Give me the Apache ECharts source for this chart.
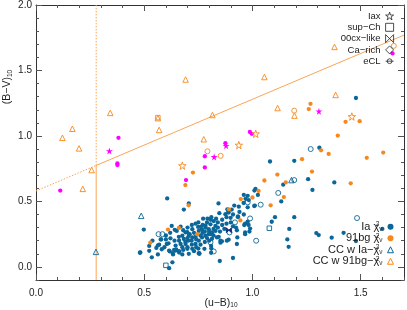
<!DOCTYPE html>
<html><head><meta charset="utf-8">
<script src="https://cdn.jsdelivr.net/npm/echarts@6/dist/echarts.min.js"></script>
<style>html,body{margin:0;padding:0;background:#fff}#c{width:407px;height:310px}</style>
</head><body><div id="c"></div>
<script>
// ---- data ----
const xMajor = [0, 0.5, 1.0, 1.5];
const yMajor = [0, 0.5, 1.0, 1.5, 2.0];

const iaPts = [
[1.478,1.29],[1.309,0.91],[1.081,0.805],[1.193,0.81],[1.257,0.67],[1.277,0.588],[1.378,0.645],[1.142,0.628],[1.133,0.5],
[1.009,0.583],[1.014,0.595],[0.96,0.55],[0.978,0.543],[1.025,0.55],[0.968,0.52],[0.983,0.51],[1.011,0.468],
[1.295,0.258],[1.306,0.243],[1.366,0.223],[1.421,0.26],[1.478,0.198],[1.6,0.29],
[1.089,0.345],[1.104,0.38],[1.193,0.38],[1.17,0.29],[1.161,0.21],[1.167,0.153],
[0.606,0.523],[0.706,0.485],[0.683,0.438],[0.843,0.485],[0.498,0.285],[0.48,0.108],[0.535,0.073],[0.563,0.095],[0.615,-0.01],[0.63,0.035],
[0.916,0.468],[0.937,0.46],[0.888,0.42],[0.904,0.438],[0.933,0.38],[0.962,0.32],[0.978,0.345],[0.966,0.263],[0.989,0.293],
[0.928,0.175],[0.882,0.2],[0.852,0.2],[0.852,0.185],[0.809,0.16],[0.91,0.068],[0.849,0.045],[0.809,0.108],[0.752,0.103],
[0.959,0.488],[0.978,0.455],[1.008,0.465],
[0.772,0.368],[0.792,0.368],[0.807,0.36],[0.832,0.368],[0.847,0.41],[0.875,0.403],[0.89,0.415],[0.899,0.375],[0.884,0.44],
[0.933,0.386],[0.982,0.32],[0.924,0.3],[0.966,0.33],[0.966,0.25],[0.986,0.27],[0.93,0.225],[0.89,0.208],[0.859,0.195],
[0.844,0.23],[0.813,0.215],[0.807,0.25],[0.928,0.28],
[0.538,0.2],[0.563,0.165],[0.576,0.21],[0.627,0.313],[0.641,0.283],[0.668,0.308],[0.6,0.21],[0.612,0.18],[0.593,0.15],
[0.581,0.135],[0.523,0.16],[0.645,0.125],[0.661,0.11],[0.633,0.095],[0.615,0.125],[0.676,0.15],[0.691,0.175],[0.703,0.2],
[0.719,0.2],[0.706,0.238],[0.722,0.225],[0.737,0.23],[0.752,0.275],[0.767,0.285],[0.783,0.3],[0.798,0.288],[0.806,0.325],
[0.821,0.35],[0.829,0.313],[0.737,0.33],[0.722,0.288],[0.691,0.263],[0.676,0.238],[0.683,0.213],[0.661,0.2],[0.668,0.175],
[0.645,0.163],[0.737,0.175],[0.752,0.2],[0.767,0.225],[0.783,0.238],[0.798,0.25],[0.813,0.263],[0.829,0.275],[0.836,0.225],
[0.755,0.1],[0.778,0.138],[0.722,0.138],[0.706,0.1],[0.676,0.095],
[0.65,0.275],[0.699,0.265],[0.749,0.305],[0.761,0.305],[0.783,0.315],[0.578,0.21],[0.569,0.17],[0.556,0.145],[0.621,0.218],
[0.604,0.175],[0.482,0.11],[0.523,0.123],[0.618,0.118],[0.632,0.105],[0.638,0.13],[0.699,0.138],[0.661,0.12],[0.648,0.133],[0.754,0.105],
[0.70,0.22],[0.71,0.25],[0.73,0.26],[0.74,0.21],[0.76,0.24],[0.77,0.26],[0.78,0.27],[0.79,0.22],[0.80,0.27],[0.82,0.29],
[0.84,0.30],[0.85,0.27],[0.86,0.32],[0.87,0.29],[0.88,0.33],[0.90,0.34],[0.91,0.31],[0.69,0.19],[0.72,0.17],[0.74,0.15],
[0.76,0.17],[0.78,0.19],[0.80,0.20],[0.82,0.24],[0.66,0.23],[0.68,0.28],[0.70,0.30],[0.72,0.32],[0.75,0.34],[0.77,0.32],
[0.79,0.34],[0.81,0.38],[0.84,0.34],[0.86,0.36],[0.88,0.38],[0.91,0.40],[0.94,0.42],[0.96,0.40],[0.60,0.24],[0.62,0.26],
[0.64,0.20],[0.70,0.15],[0.73,0.12],[0.75,0.14],[0.81,0.14],[0.68,0.13]
];
const bgPts = [
[1.268,1.245],[1.26,1.205],[1.43,1.108],[1.495,1.113],[1.394,1.003],[1.604,0.873],[1.528,0.833],[1.352,0.863],[1.317,0.89],
[1.229,0.823],[1.275,0.728],[1.454,0.638],[1.115,0.705],[1.055,0.66],[1.154,0.645],[1.028,0.58],[1.0,0.53],[0.946,0.518],
[1.145,0.533],[1.084,0.47],[0.725,0.72],[0.69,0.625],[0.705,0.47],[0.528,0.185],[0.61,0.285],[0.66,0.298],[0.745,0.25],
[0.891,0.44],[0.944,0.355]
];
const ccIaPts = [[0.486,0.39],[0.277,0.115],[1.18,0.663]];
const ccBgPts = [
[0.122,0.986],[0.168,1.055],[0.199,0.905],[0.257,0.74],[0.216,0.596],[0.343,1.176],[0.563,1.136],[0.569,1.046],
[0.691,1.431],[0.815,1.16],[0.775,0.975],[1.055,1.45],[1.116,1.213],[1.194,1.155],[1.384,1.313],[1.379,1.68]
];
const magentaDots = [[0.381,0.986],[0.376,0.79],[0.376,0.778],[0.112,0.583],[0.693,0.663],[0.78,0.76],[0.78,0.845],[0.875,0.945],[0.988,1.03],[0.997,1.016],[1.647,1.63]];
const magentaStars = [[0.339,0.885],[0.823,0.84],[0.878,0.925],[1.307,1.188]];
const orangeStars = [[0.676,0.773],[0.937,0.93],[1.015,1.016],[1.459,1.148]];
const orangeCircles = [[0.792,0.883],[0.853,0.848],[1.193,1.193],[1.653,1.688]];
const orangeSquares = [[0.563,1.14]];
const blueCircles = [[1.483,0.373],[1.269,0.9],[1.193,0.663],[1.119,0.565],[1.038,0.475],[0.978,0.493],[0.989,0.37],[0.919,0.34],[1.017,0.2],[0.821,0.118],[0.806,0.188],[0.894,0.263],[0.566,0.25],[0.584,0.25]];
const blueSquares = [[0.6,0.012],[1.078,0.295]];
const navyBowties = [[0.891,0.28]];
const cutSolidV = [[0.278,-0.1],[0.278,0.775]];
const cutDotV = [[0.278,0.775],[0.278,2.0]];
const cutSolidD = [[0.278,0.775],[1.7,1.77]];
const cutDotD = [[0,0.58],[0.278,0.775]];

// ---- styling ----
const FONT = 'Liberation Sans';
const BLUE = '#0b6699', ORANGE = '#f7891c', MAG = '#ff00ff', LINE = '#f9a555', NONE = 'rgba(0,0,0,0)', INK = '#222';
const starPath = 'path://M50,2 L61,37 L98,37 L68,59 L79,95 L50,73 L21,95 L32,59 L2,37 L39,37 Z';
const bowPath = 'path://M0,0 L10,10 L10,0 L0,10 Z';
const eclPath = 'path://M0,5 L10,5 M2,5 A3,3 0 1 1 8,5 A3,3 0 1 1 2,5';
const isMajor = v => Math.abs(v * 2 - Math.round(v * 2)) < 1e-6;

function minorAxis(pos, lab, min, max) {
  return {type:'value', position:pos, min:min, max:max, interval:0.1,
    axisLine:{show:true, onZero:false, lineStyle:{color:'#333', width:1}},
    axisTick:{show:true, inside:true, length:3, lineStyle:{color:'#555'}},
    axisLabel:{show:lab, color:INK, fontFamily:FONT, fontSize:10, margin:(pos==='bottom'?8:4),
      formatter: v => isMajor(v) ? v.toFixed(1) : ''},
    splitLine:{show:false}};
}
function majorAxis(pos, min, max, vals) {
  return {type:'value', position:pos, min:min, max:max,
    axisLine:{show:false, onZero:false},
    axisTick:{show:true, inside:true, length:6, customValues: vals, lineStyle:{color:'#555'}},
    axisLabel:{show:false}, splitLine:{show:false}};
}

function sc(name, data, symbol, size, fill, stroke, z) {
  return {type:'scatter', name:name, data:data, symbol:symbol, symbolSize:size, z:z||3,
    itemStyle:{color:fill, borderColor:stroke||fill, borderWidth: stroke ? 0.9 : 0, opacity:1},
    emphasis:{disabled:true}, silent:true};
}
function ln(data, type) {
  return {type:'line', data:data, symbol:'none', z:2, silent:true,
    lineStyle:{color:LINE, width:1, type:type}};
}

const chart = echarts.init(document.getElementById('c'), null, {renderer:'canvas'});
chart.setOption({
  animation:false,
  grid:{left:36, right:1, top:1, bottom:30, containLabel:false},
  xAxis:[minorAxis('bottom', true, 0, 1.7), majorAxis('bottom', 0, 1.7, xMajor),
         minorAxis('top', false, 0, 1.7), majorAxis('top', 0, 1.7, xMajor)],
  yAxis:[minorAxis('left', true, -0.1, 2.0), majorAxis('left', -0.1, 2.0, yMajor),
         minorAxis('right', false, -0.1, 2.0), majorAxis('right', -0.1, 2.0, yMajor)],
  legend:[{
    data:[{name:'Iax', icon:starPath},{name:'sup−Ch', icon:'rect'},{name:'00cx−like', icon:bowPath},
          {name:'Ca−rich', icon:'diamond'},{name:'eCL', icon:eclPath}],
    orient:'vertical', right:13, top:11, align:'right', itemWidth:8, itemHeight:8, itemGap:1.3,
    selectedMode:false, padding:0,
    textStyle:{fontSize:9.5, fontFamily:FONT, color:INK, lineHeight:9},
    itemStyle:{color:NONE, borderColor:INK, borderWidth:0.8}
  },{
    data:[{name:'Ia', icon:'circle', itemStyle:{color:BLUE, borderWidth:0}},
          {name:'91bg', icon:'circle', itemStyle:{color:ORANGE, borderWidth:0}},
          {name:'CCIa', icon:'triangle', itemStyle:{color:NONE, borderColor:BLUE, borderWidth:1}},
          {name:'CC91bg', icon:'triangle', itemStyle:{color:NONE, borderColor:ORANGE, borderWidth:1}}],
    orient:'vertical', right:13, top:221, align:'right', itemWidth:6, itemHeight:6, itemGap:0,
    selectedMode:false, padding:0,
    formatter: n => ({'Ia':'{t|Ia χ}{p|2}{b|ν}','91bg':'{t|91bg χ}{p|2}{b|ν}','CCIa':'{t|CC w Ia−χ}{p|2}{b|ν}','CC91bg':'{t|CC w 91bg−χ}{p|2}{b|ν}'})[n],
    textStyle:{fontSize:11, fontFamily:FONT, color:INK, lineHeight:11.5,
      rich:{t:{fontSize:11, fontFamily:FONT, color:INK, lineHeight:11.5},
            p:{fontSize:6.5, fontFamily:FONT, color:INK, verticalAlign:'top', width:0},
            b:{fontSize:6.5, fontFamily:FONT, color:INK, verticalAlign:'bottom'}}}
  }],
  graphic:[
    {type:'text', x:221, y:303, style:{text:'{a|(u−B)}{s|10}', align:'center', verticalAlign:'middle',
      rich:{a:{fontSize:10.5, fontFamily:FONT, fill:INK}, s:{fontSize:6.5, fontFamily:FONT, fill:INK, padding:[5,0,0,0]}}}},
    {type:'text', x:7.5, y:87, rotation:Math.PI/2, style:{text:'{a|(B−V)}{s|10}', align:'center', verticalAlign:'middle',
      rich:{a:{fontSize:10.5, fontFamily:FONT, fill:INK}, s:{fontSize:6.5, fontFamily:FONT, fill:INK, padding:[5,0,0,0]}}}}
  ],
  series:[
    ln(cutSolidV,'solid'), ln(cutDotV,[1.5,1.5]), ln(cutSolidD,'solid'), ln(cutDotD,[1.5,1.5]),
    sc('Ia', iaPts, 'circle', 4.3, BLUE),
    sc('91bg', bgPts, 'circle', 4.3, ORANGE),
    sc('CCIa', ccIaPts, 'triangle', 5.5, NONE, BLUE),
    sc('CC91bg', ccBgPts, 'triangle', 5.5, NONE, ORANGE),
    sc('magDots', magentaDots, 'circle', 4.3, MAG),
    sc('magStars', magentaStars, starPath, 7, MAG),
    sc('orStars', orangeStars, starPath, 7.5, NONE, ORANGE),
    sc('orCircles', orangeCircles, 'circle', 5, NONE, ORANGE),
    sc('orSquares', orangeSquares, 'rect', 4.5, NONE, ORANGE),
    sc('blCircles', blueCircles, 'circle', 5, NONE, BLUE),
    sc('blSquares', blueSquares, 'rect', 4.5, NONE, BLUE),
    sc('bowties', navyBowties, bowPath, 5, '#102a7a', '#102a7a'),
    sc('Iax', [], starPath, 8, NONE, INK),
    sc('sup−Ch', [], 'rect', 8, NONE, INK),
    sc('00cx−like', [], bowPath, 8, NONE, INK),
    sc('Ca−rich', [], 'diamond', 8, NONE, INK),
    sc('eCL', [], eclPath, 8, NONE, INK)
  ]
});
</script></body></html>
